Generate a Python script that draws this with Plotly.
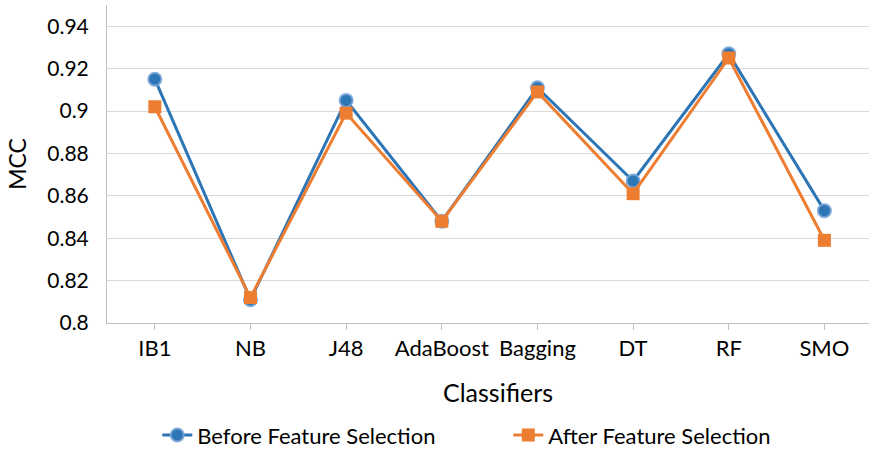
import plotly.graph_objects as go

classifiers = ["IB1", "NB", "J48", "AdaBoost", "Bagging", "DT", "RF", "SMO"]
before_fs = [0.915, 0.811, 0.905, 0.848, 0.911, 0.867, 0.927, 0.853]
after_fs = [0.902, 0.812, 0.899, 0.848, 0.909, 0.861, 0.925, 0.839]
y_ticks = [0.8, 0.82, 0.84, 0.86, 0.88, 0.9, 0.92, 0.94]
y_tick_text = ["0.8", "0.82", "0.84", "0.86", "0.88", "0.9", "0.92", "0.94"]

BLUE = "#2E75B6"
ORANGE = "#ED7D31"
FONT = "Lato"

fig = go.Figure()
fig.add_trace(go.Scatter(
    x=classifiers, y=before_fs, name="Before Feature Selection",
    mode="lines+markers",
    line=dict(color=BLUE, width=3),
    marker=dict(symbol="circle", size=13, color=BLUE,
                line=dict(color="rgba(120,165,215,0.9)", width=2)),
))
fig.add_trace(go.Scatter(
    x=classifiers, y=after_fs, name="After Feature Selection",
    mode="lines+markers",
    line=dict(color=ORANGE, width=3),
    marker=dict(symbol="square", size=13, color=ORANGE,
                line=dict(color=ORANGE, width=0)),
))

# x-axis title drawn as an annotation so it can sit slightly right of centre
fig.add_annotation(
    text="Classifiers", xref="paper", x=0.513, xanchor="center",
    yref="paper", y=-0.217, yanchor="middle", showarrow=False,
    font=dict(size=25, family=FONT, color="#000000"),
)

fig.update_layout(
    width=869, height=450,
    margin=dict(l=107, r=0, t=5, b=127, autoexpand=False),
    paper_bgcolor="white", plot_bgcolor="white",
    font=dict(family=FONT, size=21, color="#000000"),
    showlegend=True,
    legend=dict(orientation="h", xref="container", x=0.181, xanchor="left",
                yref="container", y=0.033, yanchor="middle",
                entrywidth=306, entrywidthmode="pixels",
                font=dict(size=22, family=FONT), traceorder="normal"),
    xaxis=dict(
        type="category", range=[-0.5, 7.466], automargin=False,
        showline=True, linecolor="#BFBFBF", linewidth=1,
        ticks="outside", ticklen=6, tickcolor="#BFBFBF",
        showgrid=False, zeroline=False,
        tickfont=dict(size=22, family=FONT),
    ),
    yaxis=dict(
        range=[0.8, 0.95], automargin=False,
        tickvals=y_ticks, ticktext=y_tick_text,
        showline=True, linecolor="#BFBFBF", linewidth=1,
        showgrid=True, gridcolor="#D9D9D9", gridwidth=1,
        zeroline=False, ticks="", ticklabelstandoff=13,
        tickfont=dict(size=21, family=FONT),
        title=dict(text="MCC", font=dict(size=23, family=FONT), standoff=14),
    ),
)

fig.write_html("out.html")
